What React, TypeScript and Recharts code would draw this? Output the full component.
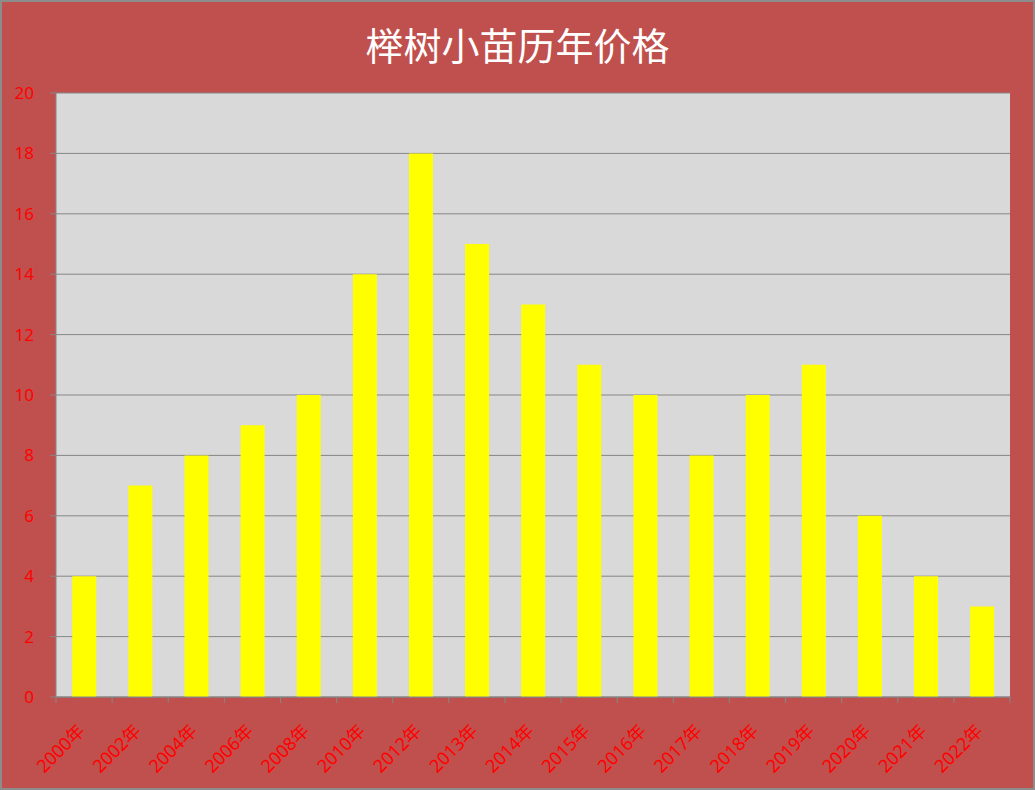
import { BarChart, Bar, XAxis, YAxis, CartesianGrid } from 'recharts'

// 榉树小苗历年价格
const years = [
  '2000年', '2002年', '2004年', '2006年', '2008年', '2010年', '2012年', '2013年', '2014年',
  '2015年', '2016年', '2017年', '2018年', '2019年', '2020年', '2021年', '2022年',
]
const prices = [4, 7, 8, 9, 10, 14, 18, 15, 13, 11, 10, 8, 10, 11, 6, 4, 3]
const yTicks = [0, 2, 4, 6, 8, 10, 12, 14, 16, 18, 20]

const data = years.map((year, i) => ({ year, price: prices[i] }))

const FONT = '"Noto Sans", "Noto Sans CJK SC", sans-serif'
const RED = '#FF0000'
const AXIS_GRAY = '#868686'

// X 轴刻度：刻度线画在类目分界处，标签旋转 -45°
const XTick = (props: any) => {
  const { x, y, payload, index, visibleTicksCount, width } = props
  const band = width / visibleTicksCount
  const left = x - band / 2
  const right = x + band / 2
  const ax = x - 3
  const ay = y + 22
  return (
    <g>
      <line x1={left} y1={y - 8} x2={left} y2={y - 2} stroke={AXIS_GRAY} strokeWidth={1} />
      {index === visibleTicksCount - 1 && (
        <line x1={right} y1={y - 8} x2={right} y2={y - 2} stroke={AXIS_GRAY} strokeWidth={1} />
      )}
      <text
        x={ax}
        y={ay}
        transform={`rotate(-45, ${ax}, ${ay})`}
        textAnchor="end"
        dominantBaseline="central"
        fill={RED}
        fontSize={18}
        fontFamily={FONT}
      >
        {payload.value}
      </text>
    </g>
  )
}

export default function App() {
  return (
    <div
      style={{
        position: 'absolute',
        left: 0,
        top: 0,
        width: 1035,
        height: 790,
        backgroundColor: '#C0504D',
        boxShadow: 'inset 0 0 0 2px #8C8C8C',
      }}
    >
      <div
        style={{
          position: 'absolute',
          left: 0,
          top: 17,
          width: 1035,
          textAlign: 'center',
          color: '#FFFFFF',
          fontSize: 38,
          lineHeight: '54px',
          fontFamily: '"Noto Sans CJK SC", sans-serif',
        }}
      >
        榉树小苗历年价格
      </div>
      <BarChart
        width={1035}
        height={790}
        data={data}
        margin={{ top: 93, right: 25, left: 0, bottom: 0 }}
        barCategoryGap="29%"
        style={{ position: 'absolute', left: 0, top: 0 }}
      >
        <CartesianGrid fill="#D9D9D9" stroke={AXIS_GRAY} vertical={false} />
        <XAxis
          dataKey="year"
          height={93}
          interval={0}
          axisLine={{ stroke: AXIS_GRAY }}
          tickLine={false}
          tick={<XTick />}
        />
        <YAxis
          width={56}
          domain={[0, 20]}
          ticks={yTicks}
          interval={0}
          axisLine={{ stroke: AXIS_GRAY }}
          tickLine={{ stroke: AXIS_GRAY }}
          tickSize={6}
          tickMargin={16}
          tick={{ fill: RED, fontSize: 17, fontFamily: FONT }}
        />
        <Bar dataKey="price" fill="#FFFF00" isAnimationActive={false} />
      </BarChart>
    </div>
  )
}
